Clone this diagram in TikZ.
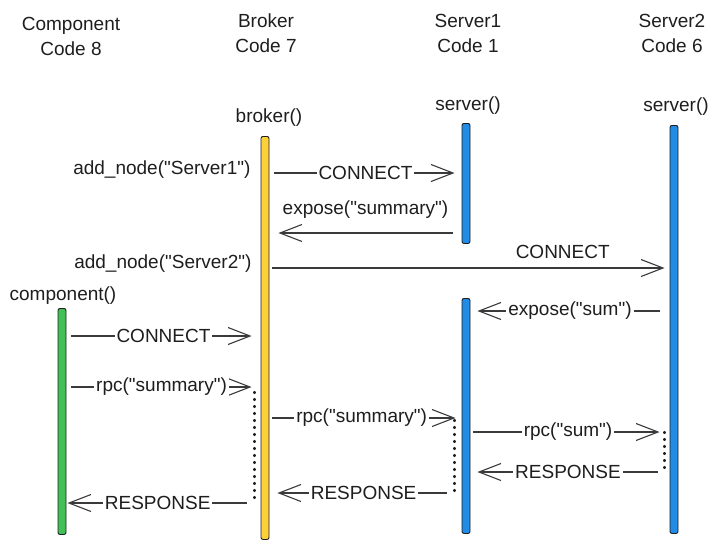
\documentclass[tikz,border=0pt]{standalone}
\usepackage{fontspec}
\setmainfont{Liberation Sans}[Ligatures=TeXOff]
\usetikzlibrary{arrows.meta}
\definecolor{ink}{HTML}{1E1E1E}
\definecolor{lineg}{HTML}{3A3A3A}
\definecolor{ybar}{HTML}{FCD03A}
\definecolor{gbar}{HTML}{40C057}
\definecolor{bbar}{HTML}{228BE6}
\begin{document}
\begin{tikzpicture}[x=1pt,y=-1pt,
  every node/.style={text=ink,font=\fontsize{19}{25}\selectfont},
  lifebar/.style={draw=ink,line width=0.9pt,rounded corners=2pt,minimum width=8pt,inner sep=0pt,anchor=north},
  msg/.style={draw=lineg,line width=1.1pt,-{Straight Barb[length=22pt,width=17pt,line width=1.1pt]}},
  lbl/.style={fill=white,inner sep=2pt},
  waitline/.style={draw=ink,line width=2.2pt,line cap=round,dash pattern=on 1pt off 6pt},
  title/.style={align=center}
]
\useasboundingbox (0,0) rectangle (726,550);

% titles
\node[title] (tcomp) at (71,36) {Component\\Code 8};
\node[title] (tbrk) at (266,33) {Broker\\Code 7};
\node[title] (ts1) at (468,33) {Server1\\Code 1};
\node[title] (ts2) at (672,33) {Server2\\Code 6};

% lifeline bars
\node[lifebar,fill=gbar,minimum height=226pt] (comp) at (62,308) {};
\node[lifebar,fill=ybar,minimum height=403pt] (brk) at (265,136) {};
\node[lifebar,fill=bbar,minimum height=120pt] (s1a) at (466,123) {};
\node[lifebar,fill=bbar,minimum height=235pt] (s1b) at (466,298) {};
\node[lifebar,fill=bbar,minimum height=408pt] (s2) at (674,125) {};

% bar labels
\node (lbrk) at (269,118) {broker()};
\node (ls1) at (468,106) {server()};
\node (ls2) at (676,107) {server()};
\node (lcomp) at (63,296) {component()};
\node[anchor=east] (add1) at (254,170) {add\_node("Server1")};
\node[anchor=east] (add2) at (255,264) {add\_node("Server2")};

% messages
\draw[msg,shorten <=5pt,shorten >=7pt] (brk.east |- 0,173) -- node[lbl]{CONNECT} (s1a.west |- 0,173);
\draw[msg,shorten <=9pt,shorten >=9pt] (s1a.west |- 0,233) -- node[yshift=23pt]{expose("summary")} (brk.east |- 0,233);
\draw[msg,shorten <=3pt,shorten >=5pt] (brk.east |- 0,268) -- node[pos=0.733,yshift=16pt]{CONNECT} (s2.west |- 0,268);
\draw[msg,shorten <=10pt,shorten >=7pt] (s2.west |- 0,311) -- node[lbl]{expose("sum")} (s1b.east |- 0,311);
\draw[msg,shorten <=5pt,shorten >=9pt] (comp.east |- 0,336) -- node[lbl]{CONNECT} (brk.west |- 0,336);
\draw[msg,shorten <=5pt,shorten >=9pt] (comp.east |- 0,387) -- node[lbl,pos=0.49]{rpc("summary")} (brk.west |- 0,387);
\draw[msg,shorten <=3pt,shorten >=6pt] (brk.east |- 0,418) -- node[lbl,pos=0.48]{rpc("summary")} (s1b.west |- 0,418);
\draw[msg,shorten <=3pt,shorten >=10pt] (s1b.east |- 0,432) -- node[lbl,pos=0.49]{rpc("sum")} (s2.west |- 0,432);
\draw[msg,shorten <=12pt,shorten >=7pt] (s2.west |- 0,472) -- node[lbl,pos=0.51]{RESPONSE} (s1b.east |- 0,472);
\draw[msg,shorten <=15pt,shorten >=8pt] (s1b.west |- 0,493) -- node[lbl,pos=0.51]{RESPONSE} (brk.east |- 0,493);
\draw[msg,shorten <=14pt,shorten >=1pt] (brk.west |- 0,503) -- node[lbl,pos=0.53]{RESPONSE} (comp.east |- 0,503);

% waiting (dotted) lines
\draw[waitline] ([xshift=-6pt]brk.west |- 0,392) -- ([xshift=-6pt]brk.west |- 0,498);
\draw[waitline] ([xshift=-7pt]s1b.west |- 0,420) -- ([xshift=-7pt]s1b.west |- 0,496);
\draw[waitline] ([xshift=-5pt]s2.west |- 0,432) -- ([xshift=-5pt]s2.west |- 0,473);
\end{tikzpicture}
\end{document}
